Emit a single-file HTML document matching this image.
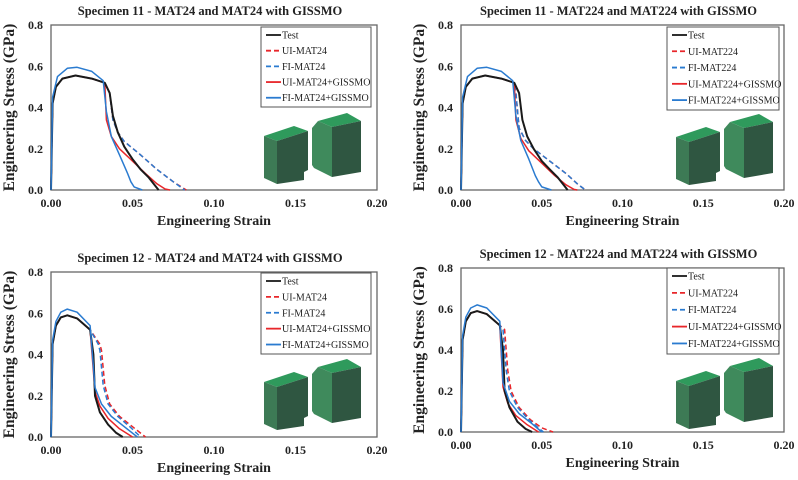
<!DOCTYPE html>
<html><head><meta charset="utf-8"><style>
body{margin:0;background:#fff;}
svg text{font-family:"Liberation Serif",serif;font-weight:bold;fill:#222;}
</style></head><body>
<svg id="fig" width="798" height="475" xmlns="http://www.w3.org/2000/svg"></svg>
<script>
const xTicks=[0,0.05,0.10,0.15,0.20];
const xTickLabels=["0.00","0.05","0.10","0.15","0.20"];
const yTicks=[0,0.2,0.4,0.6,0.8];
const yTickLabels=["0.0","0.2","0.4","0.6","0.8"];
const seriesNames24=["Test","UI-MAT24","FI-MAT24","UI-MAT24+GISSMO","FI-MAT24+GISSMO"];
const seriesNames224=["Test","UI-MAT224","FI-MAT224","UI-MAT224+GISSMO","FI-MAT224+GISSMO"];
const titles=["Specimen 11 - MAT24 and MAT24 with GISSMO","Specimen 11 - MAT224 and MAT224 with GISSMO","Specimen 12 - MAT24 and MAT24 with GISSMO","Specimen 12 - MAT224 and MAT224 with GISSMO"];
const pre11=[[0,0],[0.001,0.42],[0.003,0.5],[0.007,0.54],[0.015,0.555],[0.025,0.54],[0.033,0.52]];
const pre11b=[[0,0],[0.001,0.45],[0.004,0.55],[0.01,0.59],[0.016,0.595],[0.025,0.575],[0.032,0.53]];
const pre12=[[0,0],[0.001,0.45],[0.003,0.54],[0.006,0.58],[0.01,0.59],[0.016,0.575],[0.024,0.52]];
const pre12b=[[0,0],[0.001,0.47],[0.003,0.56],[0.006,0.605],[0.01,0.62],[0.016,0.605],[0.024,0.54]];
const s11m24=[
 pre11.concat([[0.036,0.47],[0.038,0.36],[0.041,0.28],[0.045,0.21],[0.05,0.15],[0.055,0.1],[0.06,0.06],[0.064,0.02],[0.066,0]]),
 pre11.concat([[0.036,0.47],[0.038,0.34],[0.041,0.28],[0.045,0.235],[0.055,0.17],[0.065,0.1],[0.075,0.04],[0.083,0]]),
 pre11.concat([[0.036,0.47],[0.038,0.34],[0.041,0.28],[0.045,0.235],[0.055,0.17],[0.065,0.1],[0.075,0.04],[0.082,0]]),
 pre11.concat([[0.034,0.34],[0.037,0.26],[0.042,0.2],[0.05,0.14],[0.058,0.08],[0.065,0.03],[0.07,0.005],[0.073,0]]),
 pre11b.concat([[0.034,0.38],[0.037,0.26],[0.042,0.17],[0.047,0.08],[0.049,0.04],[0.051,0.015],[0.056,0]])];
const s11m224=[
 pre11.concat([[0.036,0.47],[0.038,0.34],[0.041,0.26],[0.045,0.2],[0.05,0.14],[0.055,0.1],[0.06,0.06],[0.064,0.02],[0.066,0]]),
 pre11.concat([[0.034,0.47],[0.036,0.3],[0.04,0.24],[0.045,0.2],[0.055,0.14],[0.065,0.08],[0.072,0.03],[0.077,0]]),
 pre11.concat([[0.034,0.47],[0.036,0.3],[0.04,0.24],[0.045,0.2],[0.055,0.14],[0.065,0.08],[0.072,0.03],[0.077,0]]),
 pre11.concat([[0.034,0.34],[0.037,0.25],[0.042,0.19],[0.05,0.13],[0.058,0.07],[0.065,0.025],[0.07,0.003],[0.072,0]]),
 pre11b.concat([[0.034,0.36],[0.037,0.24],[0.042,0.15],[0.046,0.07],[0.048,0.04],[0.05,0.015],[0.056,0]])];
const s12m24=[
 pre12.concat([[0.026,0.4],[0.027,0.2],[0.03,0.12],[0.035,0.06],[0.04,0.02],[0.044,0]]),
 pre12.concat([[0.03,0.45],[0.031,0.42],[0.033,0.25],[0.036,0.16],[0.042,0.1],[0.05,0.05],[0.058,0]]),
 pre12.concat([[0.029,0.45],[0.03,0.42],[0.032,0.25],[0.035,0.16],[0.041,0.1],[0.049,0.045],[0.055,0]]),
 pre12.concat([[0.027,0.22],[0.03,0.15],[0.035,0.09],[0.042,0.04],[0.05,0]]),
 pre12b.concat([[0.027,0.24],[0.031,0.16],[0.037,0.1],[0.045,0.05],[0.053,0]])];
const s12m224=[
 pre12.concat([[0.026,0.4],[0.027,0.2],[0.03,0.12],[0.035,0.05],[0.04,0.015],[0.044,0]]),
 pre12.concat([[0.027,0.5],[0.029,0.3],[0.031,0.2],[0.036,0.12],[0.043,0.06],[0.05,0.02],[0.057,0]]),
 pre12.concat([[0.026,0.5],[0.028,0.3],[0.03,0.2],[0.035,0.12],[0.042,0.06],[0.048,0.02],[0.051,0]]),
 pre12.concat([[0.026,0.22],[0.029,0.14],[0.034,0.08],[0.041,0.035],[0.048,0]]),
 pre12b.concat([[0.026,0.24],[0.03,0.15],[0.036,0.09],[0.044,0.04],[0.05,0]])];
const colors=["#1a1a1a","#e8262a","#2a7bd0","#e8262a","#2a7bd0"];
const dashes=["","5,3","5,3","",""];

const NS="http://www.w3.org/2000/svg";
const fig=document.getElementById('fig');
function mk(tag,attrs,parent){const e=document.createElementNS(NS,tag);for(const k in attrs)e.setAttribute(k,attrs[k]);(parent||fig).appendChild(e);return e;}
const panels=[
 {L:51,R:377,T:25,B:190,data:s11m24,names:seriesNames24,title:titles[0],lg:[261,27,110,80],img:[0,0]},
 {L:461,R:784,T:25,B:190,data:s11m224,names:seriesNames224,title:titles[1],lg:[667,27,112,83],img:[412,1]},
 {L:51,R:377,T:272,B:437,data:s12m24,names:seriesNames24,title:titles[2],lg:[261,273,110,81],img:[0,246]},
 {L:461,R:784,T:268,B:432,data:s12m224,names:seriesNames224,title:titles[3],lg:[667,268,112,86],img:[412,245]}];
panels.forEach((p,pi)=>{
 const g=mk('g',{},fig);
 
 
 const sx=v=>p.L+(v-0)/(0.2)*(p.R-p.L);
 const sy=v=>p.B-(v/0.8)*(p.B-p.T);
 const t=mk('text',{x:(p.L+p.R)/2-4,y:p.T-10,'font-size':12.5,'text-anchor':'middle'},g);t.textContent=p.title;
 
 const fr=mk('rect',{x:p.L,y:p.T,width:p.R-p.L,height:p.B-p.T,fill:'none',stroke:'#666','stroke-width':1.3},g);
 
 xTicks.forEach((v,i)=>{const tt=mk('text',{x:sx(v),y:p.B+17,'font-size':12,'text-anchor':'middle'},g);tt.textContent=xTickLabels[i];
  });
 yTicks.forEach((v,i)=>{const tt=mk('text',{x:p.L-8,y:sy(v)+4,'font-size':12,'text-anchor':'end'},g);tt.textContent=yTickLabels[i];
  });
 const xt=mk('text',{x:(p.L+p.R)/2,y:p.B+35,'font-size':14,'text-anchor':'middle'},g);xt.textContent="Engineering Strain";
 
 const yx=p.L-37,yy=(p.T+p.B)/2;
 const yt=mk('text',{x:yx,y:yy,'font-size':15.5,'text-anchor':'middle',transform:`rotate(-90 ${yx} ${yy})`},g);yt.textContent="Engineering Stress (GPa)";
 
 const [ox,oy]=p.img;const im=mk('g',{transform:`translate(${ox},${oy})`},g);
 
 mk('polygon',{points:'264,136 294,126 308,131 277,141',fill:'#2f9a5c'},im);
 mk('polygon',{points:'264,136 277,141 277,184 264,178',fill:'#3d7a55'},im);
 mk('polygon',{points:'277,141 308,131 308,170 304,172 304,180 277,184',fill:'#2f5641'},im);
 mk('polygon',{points:'318,121 347,113 361,121 332,127',fill:'#2f9a5c'},im);
 mk('polygon',{points:'312,128 318,121 332,127 332,177 314,168 312,165',fill:'#3f8a5c'},im);
 mk('polygon',{points:'332,127 361,121 361,172 332,177',fill:'#2f5641'},im);
 [1,2,3,0,4].forEach(si=>{
  const d=p.data[si].map((pt,k)=>(k?'L':'M')+sx(pt[0]).toFixed(1)+','+sy(pt[1]).toFixed(1)).join(' ');
  const pa=mk('path',{d:d,fill:'none',stroke:colors[si],'stroke-width':si==0?2:1.5,'stroke-dasharray':dashes[si],'stroke-linejoin':'round'},g);
  
  
 });
 const [lx,ly,lw,lh]=p.lg;
 const lg=mk('g',{},g);
 mk('rect',{x:lx,y:ly,width:lw,height:lh,fill:'#fff',stroke:'#555','stroke-width':1},lg);
 p.names.forEach((n,i)=>{
  const yy2=ly+8+i*lh/5.1;
  const le=mk('g',{},lg);
  mk('line',{x1:lx+5,x2:lx+20,y1:yy2,y2:yy2,stroke:colors[i],'stroke-width':1.8,'stroke-dasharray':dashes[i]},le);
  const tx=mk('text',{x:lx+21,y:yy2+3.5,'font-size':10},le);tx.setAttribute('style','font-weight:normal');tx.textContent=n;
 });
});
</script>
</body></html>
